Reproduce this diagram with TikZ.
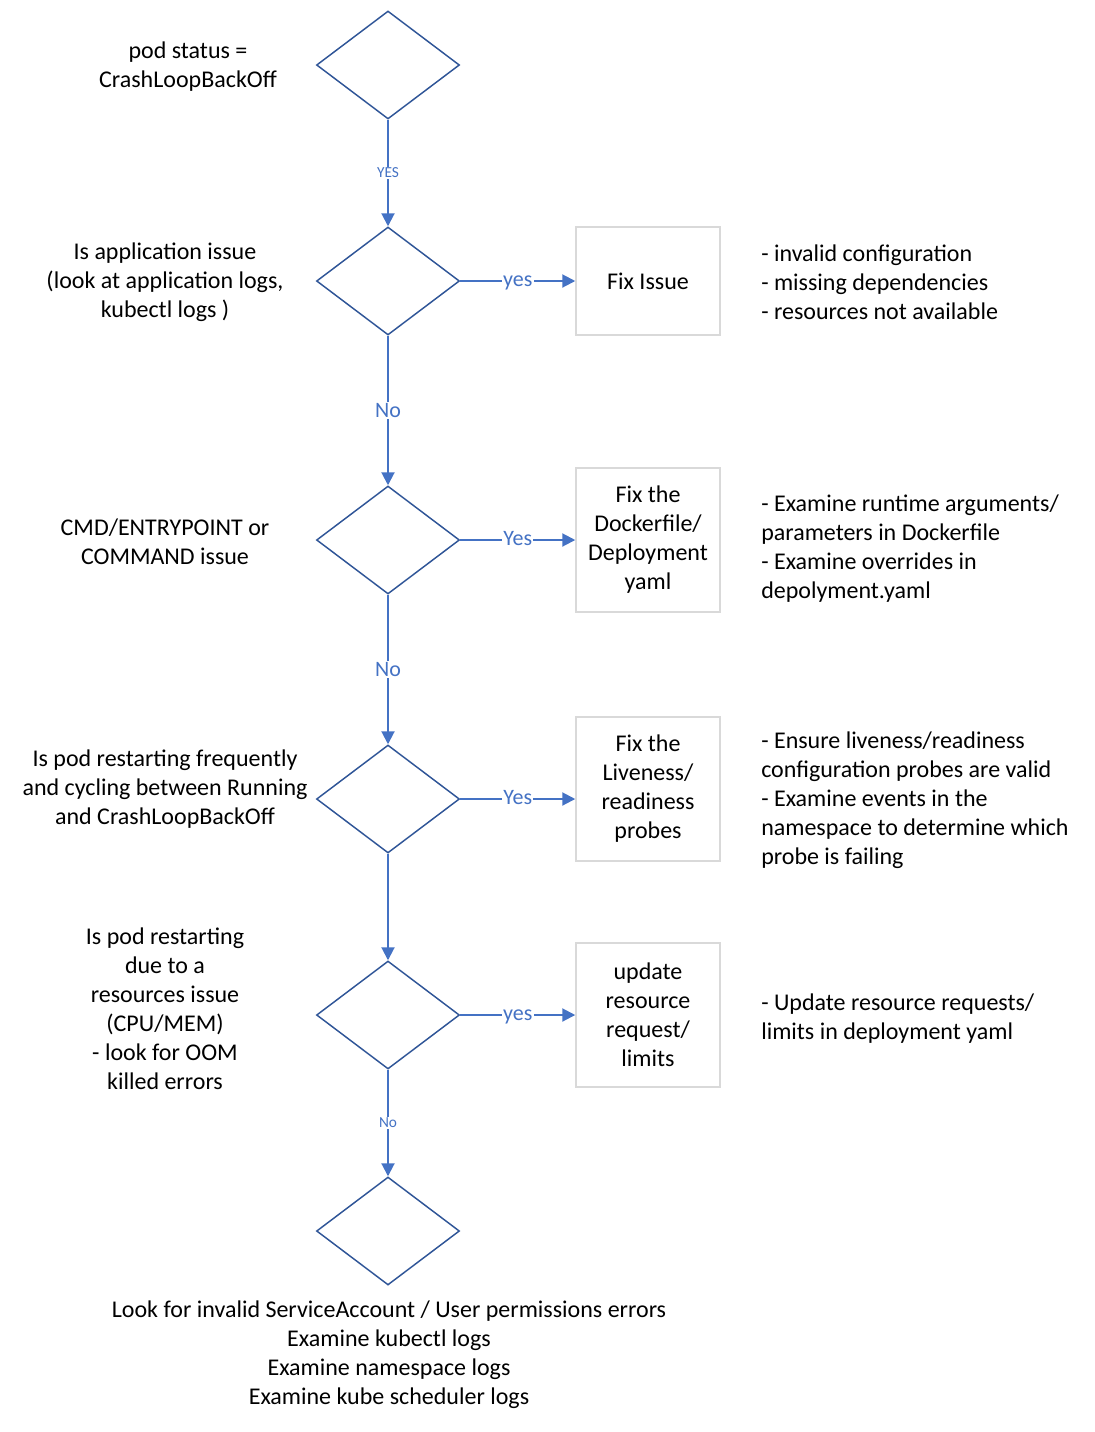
\documentclass[tikz,border=0pt]{standalone}
\usepackage{fontspec}
\setmainfont{Carlito}
\usetikzlibrary{shapes.geometric,arrows.meta}
\definecolor{flowblue}{HTML}{4472C4}
\definecolor{edgeblue}{HTML}{2F5597}
\definecolor{boxgray}{HTML}{D9D9D9}
\begin{document}
\begin{tikzpicture}[x=0.75pt,y=-0.75pt,
    every node/.style={font=\fontsize{18}{21.75}\selectfont},
    decision/.style={diamond,draw=edgeblue,line width=1.1pt,minimum width=107.25pt,minimum height=81pt,inner sep=0pt},
    fixbox/.style={rectangle,draw=boxgray,line width=1.1pt,minimum width=108pt,minimum height=108pt,align=center,inner sep=0pt},
    question/.style={align=center},
    hint/.style={align=left,anchor=west,inner sep=0pt},
    flow/.style={draw=flowblue,line width=1.5pt,-{Triangle[length=9.75pt,width=9.75pt]}},
    lbl/.style={fill=white,text=flowblue,inner sep=1pt,font=\fontsize{16.5}{20}\selectfont},
    sidelbl/.style={lbl,anchor=mid,yshift=-2pt},
    smalllbl/.style={fill=white,text=flowblue,inner sep=1pt,font=\fontsize{11.5}{14}\selectfont}]
    \useasboundingbox (0,0) rectangle (1095,1432);
    % decisions
    \node[decision] (d1) at (388,65) {};
    \node[decision] (d2) at (388,281) {};
    \node[decision] (d3) at (388,540) {};
    \node[decision] (d4) at (388,799) {};
    \node[decision] (d5) at (388,1015) {};
    \node[decision] (d6) at (388,1231) {};
    % questions
    \node[question] (q1) at (188,67) {pod status =\\CrashLoopBackOff};
    \node[question] (q2) at (165,282) {Is application issue\\(look at application logs,\\kubectl logs )};
    \node[question] (q3) at (165,542) {CMD/ENTRYPOINT or\\COMMAND issue};
    \node[question] (q4) at (165,789) {Is pod restarting frequently\\and cycling between Running\\and CrashLoopBackOff};
    \node[question] (q5) at (165,1009) {Is pod restarting\\due to a\\resources issue\\(CPU/MEM)\\- look for OOM\\killed errors};
    \node[question] (q6) at (389,1355) {Look for invalid ServiceAccount / User permissions errors\\Examine kubectl logs\\Examine namespace logs\\Examine kube scheduler logs};
    % fixes
    \node[fixbox,minimum height=81pt] (b1) at (648,281) {Fix Issue};
    \node[fixbox] (b2) at (648,540) {Fix the\\Dockerfile/\\Deployment\\yaml};
    \node[fixbox] (b3) at (648,789) {Fix the\\Liveness/\\readiness\\probes};
    \node[fixbox] (b4) at (648,1015) {update\\resource\\request/\\limits};
    % hints
    \node[hint] (h1) at (761,282) {- invalid configuration\\- missing dependencies\\- resources not available};
    \node[hint] (h2) at (761,549) {- Examine runtime arguments/\\parameters in Dockerfile\\- Examine overrides in\\depolyment.yaml};
    \node[hint] (h3) at (761,800) {- Ensure liveness/readiness\\configuration probes are valid\\- Examine events in the\\namespace to determine which\\probe is failing};
    \node[hint] (h4) at (761,1019) {- Update resource requests/\\limits in deployment yaml};
    % connectors
    \draw[flow] (d1) -- node[smalllbl] {YES} (d2);
    \draw[flow] (d2) -- node[lbl] {No} (d3);
    \draw[flow] (d3) -- node[lbl] {No} (d4);
    \draw[flow] (d4) -- (d5);
    \draw[flow] (d5) -- node[smalllbl] {No} (d6);
    \draw[flow] (d2.east) -- node[sidelbl] {yes} (d2.east -| b1.west);
    \draw[flow] (d3.east) -- node[sidelbl] {Yes} (d3.east -| b2.west);
    \draw[flow] (d4.east) -- node[sidelbl] {Yes} (d4.east -| b3.west);
    \draw[flow] (d5.east) -- node[sidelbl] {yes} (d5.east -| b4.west);
\end{tikzpicture}
\end{document}
